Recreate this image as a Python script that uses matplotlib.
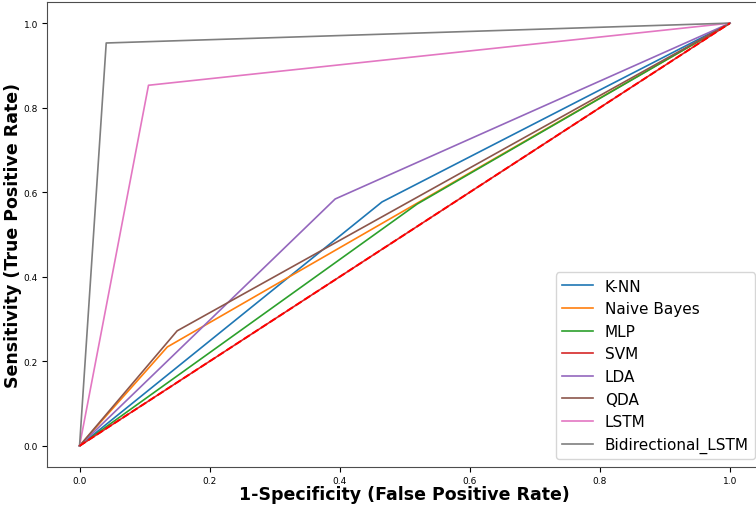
import matplotlib
matplotlib.use("Agg")
from matplotlib import pyplot as plt

# ROC points (0,0) -> (fpr, tpr) -> (1,1)
models = ["K-NN", "Naive Bayes", "MLP", "SVM", "LDA", "QDA", "LSTM", "Bidirectional_LSTM"]
fpr_knn = [0.0, 0.465, 1.0]
tpr_knn = [0.0, 0.577, 1.0]
fpr_nb = [0.0, 0.135, 1.0]
tpr_nb = [0.0, 0.234, 1.0]
fpr_mlp = [0.0, 0.519, 1.0]
tpr_mlp = [0.0, 0.572, 1.0]
fpr_svm = [0.0, 1.0]
tpr_svm = [0.0, 1.0]
fpr_lda = [0.0, 0.393, 1.0]
tpr_lda = [0.0, 0.584, 1.0]
fpr_qda = [0.0, 0.150, 1.0]
tpr_qda = [0.0, 0.272, 1.0]
fpr_lstm = [0.0, 0.106, 1.0]
tpr_lstm = [0.0, 0.853, 1.0]
fpr_bilstm = [0.0, 0.041, 1.0]
tpr_bilstm = [0.0, 0.953, 1.0]
diag = [0.0, 1.0]

curves = [
    (fpr_knn, tpr_knn),
    (fpr_nb, tpr_nb),
    (fpr_mlp, tpr_mlp),
    (fpr_svm, tpr_svm),
    (fpr_lda, tpr_lda),
    (fpr_qda, tpr_qda),
    (fpr_lstm, tpr_lstm),
    (fpr_bilstm, tpr_bilstm),
]

if __name__ == "__main__":
    fig = plt.figure(figsize=(7.56, 5.06), dpi=100)
    ax = fig.add_axes([0.0622, 0.0751, 0.9464, 0.9190])

    for name, (fpr, tpr) in zip(models, curves):
        ax.plot(fpr, tpr, lw=1.2, label=name)

    ax.plot(diag, diag, "r--", lw=1.4)

    ax.set_xlabel("1-Specificity (False Positive Rate)", fontsize=12.5,
                  fontweight="bold", labelpad=0)
    ax.set_ylabel("Sensitivity (True Positive Rate)", fontsize=12.5,
                  fontweight="bold", labelpad=1)
    ax.tick_params(labelsize=6.5, pad=3)
    for s in ax.spines.values():
        s.set_color("0.3")

    ax.legend(loc="lower right", fontsize=11)

    fig.savefig("out.png", dpi=100)
